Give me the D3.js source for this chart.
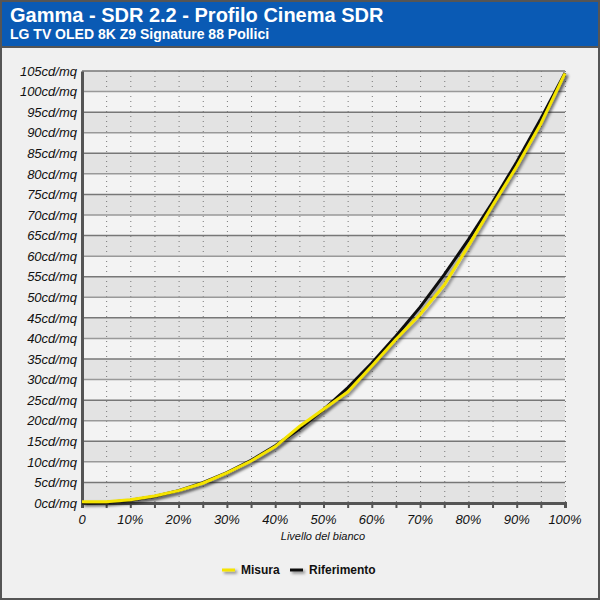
<!DOCTYPE html>
<html><head><meta charset="utf-8">
<script src="https://cdn.jsdelivr.net/npm/d3@7"></script>
<style>body{margin:0;background:#fff}svg{display:block}</style>
</head><body>
<svg id="c" width="600" height="600"></svg>
<script>
const title = "Gamma - SDR 2.2 - Profilo Cinema SDR";
const subtitle = "LG TV OLED 8K Z9 Signature 88 Pollici";
const xLevels = [0,5,10,15,20,25,30,35,40,45,50,55,60,65,70,75,80,85,90,95,100];
const misura = [0.3,0.3,0.8,1.7,3.0,4.8,7.3,10.2,13.7,18.6,22.8,27.0,33.3,39.8,45.8,53.0,62.5,72.3,81.8,92.2,104.4];
const riferimento = [0,0.15,0.65,1.6,3.0,4.95,7.4,10.4,13.9,18.0,22.7,28.0,34.0,40.6,47.6,55.5,64.0,73.1,82.9,93.4,104.5];
const yTicks = d3.range(0,106,5);
const xTickLabels = ["0","10%","20%","30%","40%","50%","60%","70%","80%","90%","100%"];
const xLabel = "Livello del bianco";
const seriesNames = ["Misura","Riferimento"];

const svg = d3.select("#c");
const defs = svg.append("defs");
const f = defs.append("filter").attr("id","sh").attr("filterUnits","userSpaceOnUse")
  .attr("x",0).attr("y",0).attr("width",600).attr("height",600);
f.append("feDropShadow").attr("dx",2).attr("dy",2).attr("stdDeviation",1.5).attr("flood-color","#000").attr("flood-opacity",0.45);

// background
svg.append("rect").attr("x",0).attr("y",0).attr("width",600).attr("height",600).attr("fill","#f0f0f0");
svg.append("rect").attr("x",0).attr("y",0).attr("width",600).attr("height",46).attr("fill","#0a5ab4");
svg.append("line").attr("x1",0).attr("x2",600).attr("y1",47).attr("y2",47).attr("stroke","#555").attr("stroke-width",2);
svg.append("rect").attr("x",1).attr("y",1).attr("width",598).attr("height",598).attr("fill","none").attr("stroke","#555").attr("stroke-width",2);

svg.append("text").attr("x",10).attr("y",22).attr("fill","#fff")
  .attr("font-family","Liberation Sans, Arial, sans-serif").attr("font-weight","bold").attr("font-size",20).text(title);
svg.append("text").attr("x",10).attr("y",39).attr("fill","#fff")
  .attr("font-family","Liberation Sans, Arial, sans-serif").attr("font-weight","bold").attr("font-size",14).text(subtitle);

const x = d3.scaleLinear().domain([0,100]).range([82,565]);
const y = d3.scaleLinear().domain([0,105]).range([503,71]);

const g = svg.append("g");
// bands
for (let i=0;i<yTicks.length-1;i++){
  g.append("rect").attr("x",x(0)).attr("width",x(100)-x(0))
   .attr("y",y(yTicks[i+1])).attr("height",y(yTicks[i])-y(yTicks[i+1]))
   .attr("fill", i%2===0 ? "#e3e3e3" : "#f3f3f3");
}
// vertical dotted grid
g.selectAll("line.vg").data(xLevels.slice(1)).join("line")
  .attr("x1",d=>x(d)).attr("x2",d=>x(d)).attr("y1",y(105)).attr("y2",y(0))
  .attr("stroke","#777").attr("stroke-width",1).attr("stroke-dasharray","1,4")
  .attr("transform","translate(0.5,0)");
// horizontal grid lines
g.selectAll("line.hg").data(yTicks.slice(1)).join("line")
  .attr("x1",x(0)).attr("x2",x(100)).attr("y1",d=>y(d)).attr("y2",d=>y(d))
  .attr("stroke",(d,i)=> i%2===0 ? "#777" : "#999").attr("stroke-width",1.5);

// y axis
const yAxis = d3.axisLeft(y).tickValues(yTicks).tickSize(0).tickPadding(5).tickFormat(d=>d+"cd/mq");
const ya = svg.append("g").attr("transform",`translate(${x(0)},0)`).call(yAxis);
ya.select(".domain").attr("stroke","#555").attr("stroke-width",3);
ya.selectAll("text").attr("font-family","Liberation Sans, Arial, sans-serif").attr("font-style","italic").attr("font-size",13).attr("fill","#111");

// x axis
const xAxis = d3.axisBottom(x).tickValues(xLevels).tickSize(5).tickPadding(3).tickFormat(()=> "");
const xa = svg.append("g").attr("transform",`translate(0,${y(0)})`).call(xAxis);
xa.select(".domain").attr("stroke","#555").attr("stroke-width",3);
xa.selectAll(".tick line").attr("stroke","#555").attr("stroke-width",2);
svg.append("g").selectAll("text").data(xTickLabels).join("text")
  .attr("x",(d,i)=>x(i*10)).attr("y",524).attr("text-anchor","middle")
  .attr("font-family","Liberation Sans, Arial, sans-serif").attr("font-style","italic").attr("font-size",13).attr("fill","#111")
  .text(d=>d);
svg.append("text").attr("x",323).attr("y",540).attr("text-anchor","middle")
  .attr("font-family","Liberation Sans, Arial, sans-serif").attr("font-style","italic").attr("font-size",11).attr("fill","#111").text(xLabel);

// lines
const line = d3.line().x((d,i)=>x(xLevels[i])).y(d=>y(d));
svg.append("path").datum(riferimento).attr("d",line).attr("fill","none").attr("stroke","#111").attr("stroke-width",3).attr("filter","url(#sh)");
svg.append("path").datum(misura).attr("d",line).attr("fill","none").attr("stroke","#f5e400").attr("stroke-width",3).attr("filter","url(#sh)");

// legend
const lg = svg.append("g");
const colors = ["#f5e400","#111"];
const lx = [222,290];
seriesNames.forEach((n,i)=>{
  lg.append("rect").attr("x",lx[i]).attr("y",568.5).attr("width",13).attr("height",3)
    .attr("fill",colors[i]).attr("filter","url(#sh)");
  lg.append("text").attr("x",lx[i]+19).attr("y",574)
    .attr("font-family","Liberation Sans, Arial, sans-serif").attr("font-weight","bold").attr("font-size",12).attr("fill","#111").text(n);
});
</script>
</body></html>
